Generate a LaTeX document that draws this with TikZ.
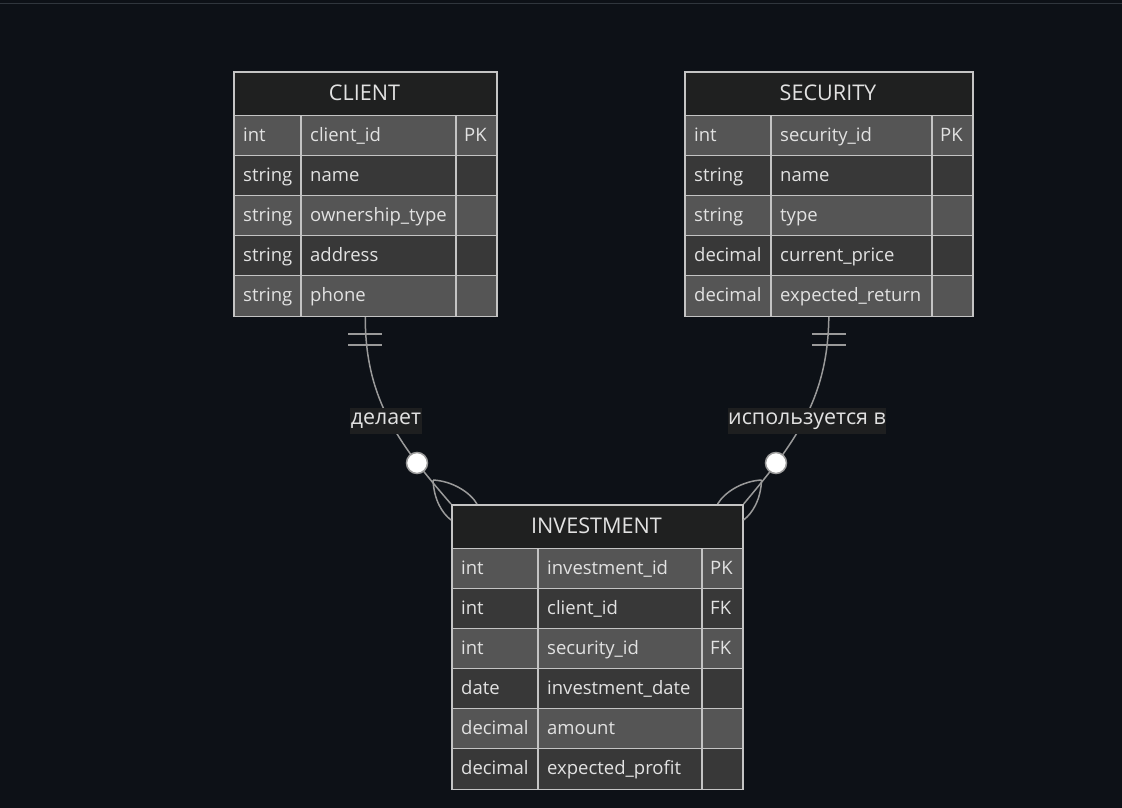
\documentclass[tikz,border=0pt]{standalone}
\usepackage{fontspec}
\setmainfont{Open Sans}
\usetikzlibrary{calc}
\definecolor{bgc}{HTML}{0D1117}
\definecolor{toplinec}{HTML}{30363D}
\definecolor{hdrc}{HTML}{1F2020}
\definecolor{rowA}{HTML}{555555}
\definecolor{rowB}{HTML}{383838}
\definecolor{bordc}{HTML}{C4C4C4}
\definecolor{txtc}{HTML}{E2E2E2}
\definecolor{connc}{HTML}{9A9A9A}
\definecolor{lblbg}{HTML}{1E1F20}
\tikzset{
  hdrtext/.style={text=txtc, font=\fontsize{21.6}{26}\selectfont, inner sep=0pt, anchor=base},
  celltext/.style={text=txtc, font=\fontsize{18.5}{22}\selectfont, inner sep=0pt, anchor=base west},
  gridline/.style={draw=bordc, line width=1.6pt},
  conn/.style={draw=connc, line width=1.5pt},
  circ/.style={circle, draw=connc, line width=1.5pt, fill=white, minimum size=21pt, inner sep=0pt},
  lbl/.style={fill=lblbg, text=txtc, font=\fontsize{21.4}{26}\selectfont, inner xsep=0.5pt, inner ysep=0pt, minimum height=26pt},
}
% #1 name, #2 L, #3 C1, #4 C2, #5 R, #6 T, #7 title, #8 number of rows, #9 rows
\newcommand\erentity[9]{%
  \fill[hdrc] (#2,#6) rectangle (#5,#6+44.5);
  \node[hdrtext] at ({(#2+#5)/2},#6+29.5) {#7};
  \foreach \ty/\nm/\ky [count=\i] in {#9} {
    \pgfmathsetmacro\yt{#6+44.5+(\i-1)*40}
    \pgfmathtruncatemacro\odd{mod(\i,2)}
    \ifnum\odd=1 \def\rc{rowA}\else\def\rc{rowB}\fi
    \fill[fill=\rc] (#2,\yt) rectangle (#5,\yt+40);
    \node[celltext] at (#2+10,\yt+26.3) {\ty};
    \node[celltext] at (#3+9,\yt+26.3) {\nm};
    \node[celltext] at (#4+8,\yt+26.3) {\ky};
    \draw[gridline] (#2,\yt) -- (#5,\yt);
  }
  \draw[gridline] (#3,#6+44.5) -- (#3,#6+44.5+#8*40);
  \draw[gridline] (#4,#6+44.5) -- (#4,#6+44.5+#8*40);
  \node[draw=bordc, line width=1.6pt, inner sep=0pt, anchor=north west,
        minimum width={(#5-#2)*1pt}, minimum height={(44.5+#8*40)*1pt}] (#1) at (#2,#6) {};
}
\begin{document}
\begin{tikzpicture}[x=1pt,y=-1pt]
\fill[bgc] (0,0) rectangle (1122,808);
\useasboundingbox (0,0) rectangle (1122,808);
\draw[toplinec, line width=1.2pt] (0,3.5) -- (1122,3.5);

\erentity{client}{233}{301}{456}{496}{71}{CLIENT}{5}{int/client\_id/PK, string/name/, string/ownership\_type/, string/address/, string/phone/}
\erentity{security}{684}{771}{932}{972}{71}{SECURITY}{5}{int/security\_id/PK, string/name/, string/type/, decimal/current\_price/, decimal/expected\_return/}
\erentity{inv}{451}{538}{702}{742}{504}{INVESTMENT}{6}{int/investment\_id/PK, int/client\_id/FK, int/security\_id/FK, date/investment\_date/, decimal/amount/, decimal/expected\_profit/}

% CLIENT -- INVESTMENT
\draw[conn] (client.south) .. controls (365,400) and (400,445) .. (inv.north west);
\draw[conn] ($(client.south)+(-17,17)$) -- ($(client.south)+(17,17)$);
\draw[conn] ($(client.south)+(-17,28)$) -- ($(client.south)+(17,28)$);
\coordinate (v1) at ($(inv.north west)+(-18,-24)$);
\draw[conn] (v1) .. controls ($(v1)+(1,20)$) and ($(v1)+(9,33)$) .. ($(inv.north west)+(0,16)$);
\draw[conn] (v1) .. controls ($(v1)+(19,1)$) and ($(v1)+(37,12)$) .. ($(inv.north west)+(26,0)$);
\node[circ] (o1) at (417,463) {};
\node[lbl] (l1) at (386,421) {делает};

% SECURITY -- INVESTMENT
\draw[conn] (security.south) .. controls (828,400) and (793,445) .. (inv.north east);
\draw[conn] ($(security.south)+(-17,17)$) -- ($(security.south)+(17,17)$);
\draw[conn] ($(security.south)+(-17,28)$) -- ($(security.south)+(17,28)$);
\coordinate (v2) at ($(inv.north east)+(18,-24)$);
\draw[conn] (v2) .. controls ($(v2)+(-1,20)$) and ($(v2)+(-9,33)$) .. ($(inv.north east)+(0,16)$);
\draw[conn] (v2) .. controls ($(v2)+(-19,1)$) and ($(v2)+(-37,12)$) .. ($(inv.north east)+(-26,0)$);
\node[circ] (o2) at (776,463) {};
\node[lbl] (l2) at (807,421) {используется в};
\end{tikzpicture}
\end{document}
